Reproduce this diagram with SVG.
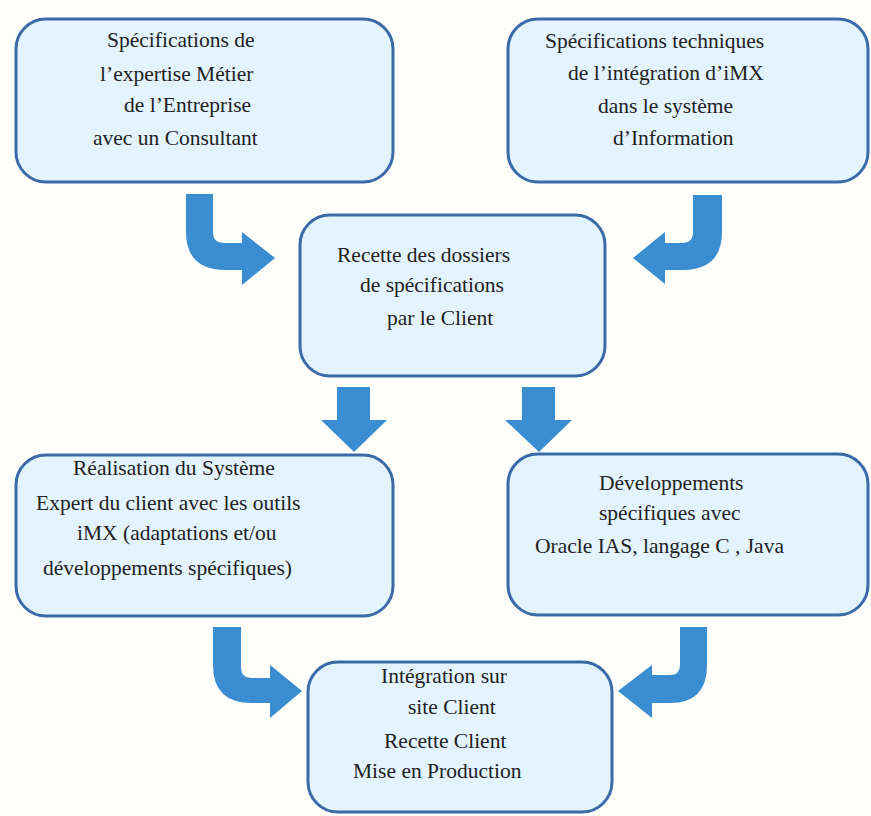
<svg xmlns="http://www.w3.org/2000/svg" width="871" height="816" viewBox="0 0 871 816">
<style>
.box{fill:#e3f4fe;stroke:#3b6aa8;stroke-width:3}
.arr{fill:#3a8dd0}
</style>
<rect width="871" height="816" fill="#fefefb"/>
<g id="connectors">
<path class="arr" d="M186,194 H213 V232 Q213,243 224,243 H242 V232 L275,258 L242,285 V270 H226 Q186,270 186,232 Z"/>
<path class="arr" d="M722,195 H693 V232 Q693,243 682,243 H665 V232 L633,258 L665,284 V270 H682 Q722,270 722,232 Z"/>
<path class="arr" d="M337,387 H370 V420 H387 L354,452 L321,420 H337 Z"/>
<path class="arr" d="M522,387 H555 V420 H572 L539,452 L505,420 H522 Z"/>
<path class="arr" d="M213,627 H241 V667 Q241,678 252,678 H270 V665 L302,691 L270,718 V703 H252 Q213,703 213,665 Z"/>
<path class="arr" d="M707,627 H680 V665 Q680,675 670,675 H652 V665 L618,691 L652,718 V703 H670 Q707,703 707,665 Z"/>
</g>
<g font-family="Liberation Serif, Times New Roman, serif" font-size="21.5" fill="#222">
<g id="n1">
<rect class="box" x="16" y="19" width="377" height="163" rx="30"/>
<text x="107" y="47">Spécifications de</text>
<text x="100" y="81">l’expertise Métier</text>
<text x="124" y="112">de l’Entreprise</text>
<text x="93" y="145">avec un Consultant</text>
</g>
<g id="n2">
<rect class="box" x="508" y="19" width="360" height="163" rx="30"/>
<text x="545" y="48">Spécifications techniques</text>
<text x="568" y="80">de l’intégration d’iMX</text>
<text x="598" y="113">dans le système</text>
<text x="613" y="145">d’Information</text>
</g>
<g id="n3">
<rect class="box" x="300" y="215" width="305" height="161" rx="30"/>
<text x="337" y="262">Recette des dossiers</text>
<text x="360" y="292">de spécifications</text>
<text x="387" y="325">par le Client</text>
</g>
<g id="n4">
<rect class="box" x="16" y="455" width="377" height="161" rx="30"/>
<text x="73" y="475">Réalisation du Système</text>
<text x="36" y="510">Expert du client avec les outils</text>
<text x="77" y="540">iMX (adaptations et/ou</text>
<text x="43" y="575">développements spécifiques)</text>
</g>
<g id="n5">
<rect class="box" x="508" y="454" width="360" height="161" rx="30"/>
<text x="599" y="490">Développements</text>
<text x="599" y="520">spécifiques avec</text>
<text x="535" y="553">Oracle IAS, langage C , Java</text>
</g>
<g id="n6">
<rect class="box" x="308" y="662" width="304" height="150" rx="30"/>
<text x="381" y="683">Intégration sur</text>
<text x="408" y="714">site Client</text>
<text x="384" y="748">Recette Client</text>
<text x="353" y="778">Mise en Production</text>
</g>
</g>
</svg>
